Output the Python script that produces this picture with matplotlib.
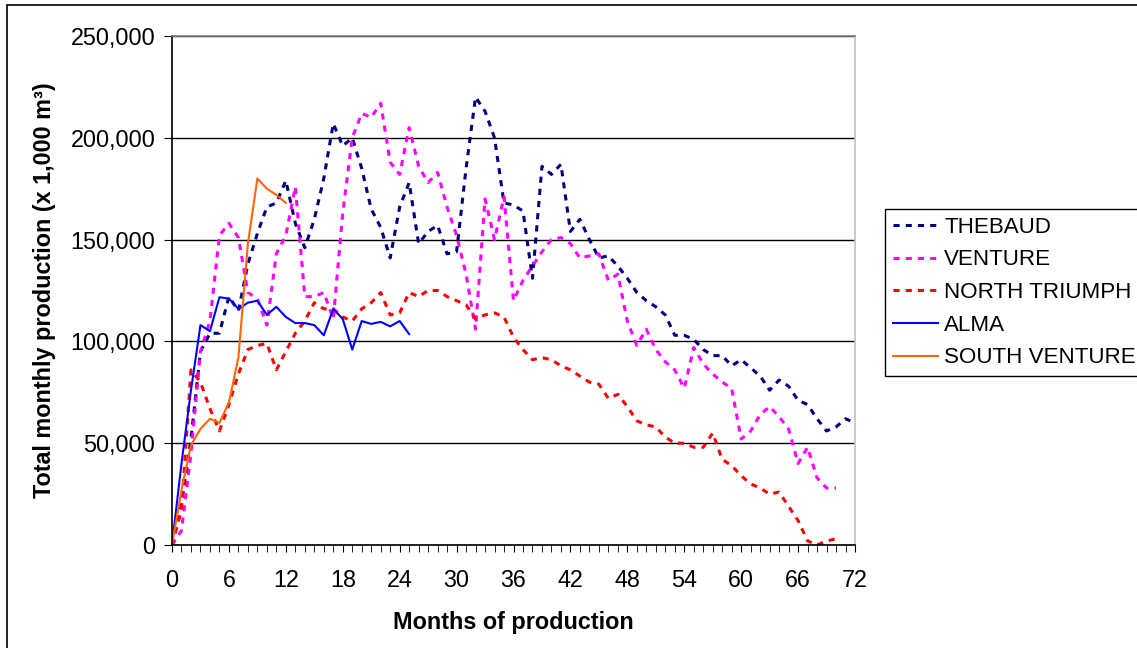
import matplotlib
matplotlib.use("Agg")
import matplotlib.pyplot as plt
from matplotlib.patches import Rectangle
from matplotlib.ticker import FuncFormatter, MultipleLocator

plt.rcParams["font.family"] = ["Liberation Sans", "DejaVu Sans"]

# monthly production (x 1,000 m3)
thebaud = [0, 20000, 52000, 95000, 104000, 104000, 122000, 115000, 138000, 153000,
           166000, 168000, 179000, 158000, 146000, 160000, 180000, 207000, 196000, 200000,
           185000, 165000, 156000, 141000, 166000, 178000, 148000, 154000, 157000, 143000,
           144000, 185000, 220000, 213000, 200000, 168000, 167000, 164000, 131000, 186000,
           182000, 187000, 154000, 160000, 150000, 141000, 142000, 137000, 131000, 124000,
           120000, 117000, 113000, 103000, 103000, 101000, 96000, 93000, 93000, 88000,
           91000, 87000, 83000, 76000, 81000, 78000, 71000, 69000, 62000, 56000,
           58000, 62000, 60000]
venture = [0, 7000, 45000, 95000, 110000, 152000, 158000, 151000, 124000, 121000,
           108000, 143000, 152000, 176000, 122000, 122000, 124000, 111000, 163000, 200000,
           212000, 210000, 217000, 188000, 182000, 205000, 186000, 178000, 183000, 166000,
           152000, 133000, 106000, 170000, 150000, 171000, 120000, 130000, 137000, 144000,
           150000, 151000, 148000, 141000, 142000, 143000, 130000, 133000, 110000, 98000,
           106000, 96000, 90000, 86000, 77000, 97000, 89000, 84000, 80000, 77000,
           52000, 56000, 64000, 68000, 63000, 57000, 40000, 48000, 33000, 28000,
           28000]
north_triumph = [0, 17000, 86000, 80000, 67000, 56000, 69000, 84000, 96000, 98000,
                 99000, 86000, 95000, 104000, 110000, 119000, 116000, 116000, 112000, 110000,
                 116000, 119000, 124000, 113000, 114000, 124000, 122000, 125000, 125000, 122000,
                 120000, 118000, 111000, 113000, 114000, 112000, 102000, 96000, 91000, 92000,
                 91000, 88000, 86000, 83000, 80000, 79000, 72000, 74000, 68000, 61000,
                 59000, 58000, 53000, 50000, 50000, 48000, 48000, 55000, 42000, 39000,
                 34000, 30000, 28000, 25000, 26000, 19000, 12000, 2000, 0, 2000,
                 3000]
alma = [0, 40000, 76000, 108000, 105000, 121700, 121000, 116000, 119000, 120000,
        113000, 117000, 112000, 109000, 109000, 108000, 103000, 116000, 111000, 96000,
        110000, 108600, 109600, 107400, 110000, 103600]
south_venture = [0, 27000, 49000, 57000, 62000, 60000, 70000, 92000, 148000, 180000,
                 175000, 172000, 168000]

series = [
    ("THEBAUD", thebaud, "#000080", "dash"),
    ("VENTURE", venture, "#FF00FF", "dash"),
    ("NORTH TRIUMPH", north_triumph, "#FF0000", "dash"),
    ("ALMA", alma, "#0000FF", "solid"),
    ("SOUTH VENTURE", south_venture, "#FF6600", "solid"),
]

W, H = 1137, 648
fig = plt.figure(figsize=(W / 100, H / 100), dpi=100)
ax = fig.add_axes([172 / W, 1 - 545 / H, (855 - 172) / W, (545 - 36) / H])

for name, vals, color, style in series:
    x = list(range(len(vals)))
    if style == "dash":
        ax.plot(x, vals, color=color, lw=2.2, dashes=(2, 2), label=name)
    else:
        ax.plot(x, vals, color=color, lw=1.5, label=name)

ax.set_xlim(0, 72)
ax.set_ylim(0, 250000)
ax.xaxis.set_major_locator(MultipleLocator(6))
ax.xaxis.set_minor_locator(MultipleLocator(1))
ax.yaxis.set_major_locator(MultipleLocator(50000))
ax.yaxis.set_major_formatter(FuncFormatter(lambda v, p: f"{int(v):,}"))

ax.grid(axis="y", color="black", lw=1)
ax.set_axisbelow(True)
ax.tick_params(axis="both", which="both", direction="out", labelsize=16.8, color="black")
ax.tick_params(axis="x", which="both", length=5, pad=12)
ax.tick_params(axis="y", length=6, pad=6)

ax.spines["left"].set_color("black")
ax.spines["bottom"].set_color("black")
ax.spines["top"].set_color("#808080")
ax.spines["right"].set_color("#c0c0c0")
for s in ax.spines.values():
    s.set_linewidth(1.2)

ax.set_xlabel("Months of production", fontsize=16.8, fontweight="bold", labelpad=14)
ax.set_ylabel("Total monthly production (x 1,000 m³)", fontsize=16.8, fontweight="bold", labelpad=10)

leg = ax.legend(loc="upper left", bbox_to_anchor=(885 / W, 1 - 209 / H),
                bbox_transform=fig.transFigure, fontsize=16.1, frameon=True,
                fancybox=False, edgecolor="black", framealpha=1,
                handlelength=2.0, handletextpad=0.3, labelspacing=0.52,
                borderpad=0.35, borderaxespad=0)
leg.get_frame().set_linewidth(1.0)

# outer chart border (only left and top edges are visible)
fig.patches.append(Rectangle((7 / W, -0.1), 1.2, 1.1 - 5 / H, transform=fig.transFigure,
                             fill=False, edgecolor="black", lw=1.2))

fig.savefig("out.png", dpi=100)
